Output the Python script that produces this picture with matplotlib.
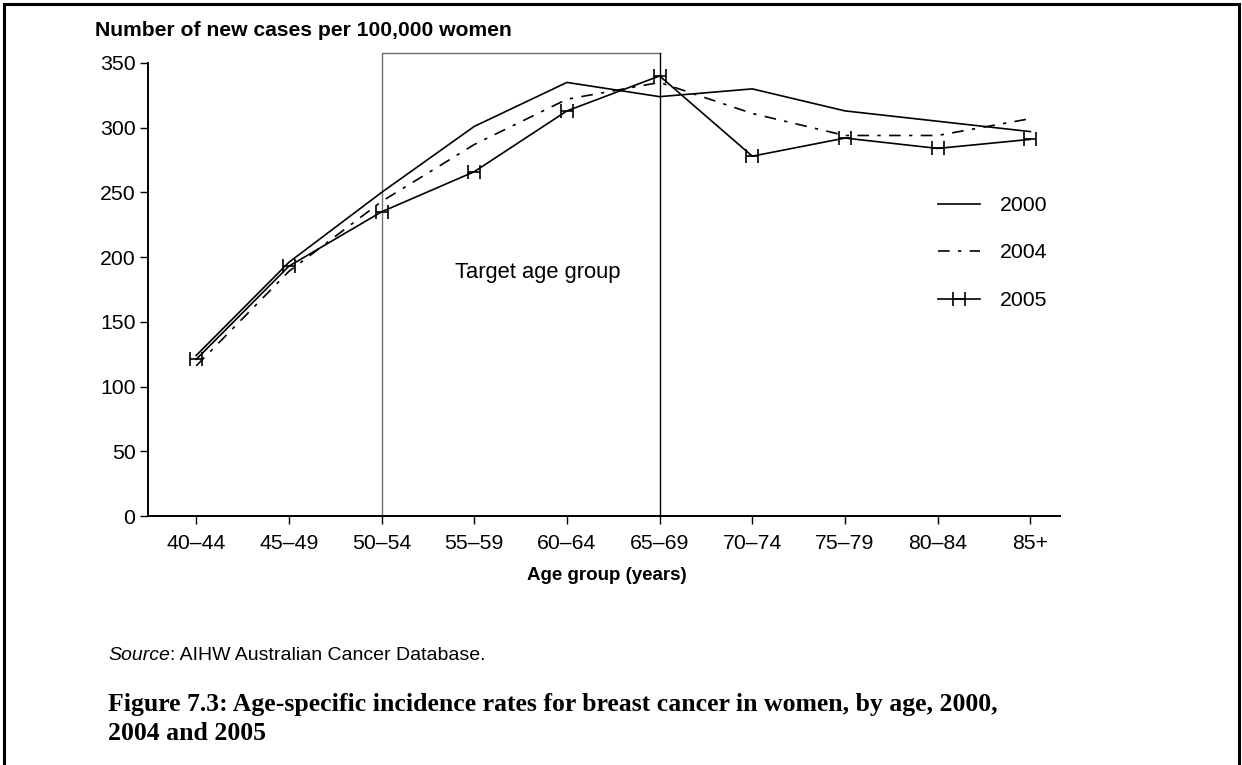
import matplotlib.pyplot as plt
from matplotlib.path import Path
from matplotlib.patches import Rectangle

# Age-specific incidence rates (new cases per 100,000 women)
age_groups = ['40–44', '45–49', '50–54', '55–59', '60–64',
              '65–69', '70–74', '75–79', '80–84', '85+']
rate_2000 = [124, 196, 250, 301, 335, 324, 330, 313, 305, 297]
rate_2004 = [116, 189, 243, 287, 322, 335, 311, 294, 294, 307]
rate_2005 = [121, 193, 235, 266, 313, 340, 278, 292, 284, 291]
yticks = [0, 50, 100, 150, 200, 250, 300, 350]

# screening target age group and the height of its outline box
target_first, target_last = '50–54', '65–69'
target_top = 358

plt.rcParams['font.family'] = ['Liberation Sans', 'DejaVu Sans']

fig = plt.figure(figsize=(12.42, 7.65), dpi=100)
ax = fig.add_axes([148 / 1242, 249 / 765, 912 / 1242, 453 / 765])

x = list(range(len(age_groups)))

# "H" shaped marker: two uprights joined by a crossbar
h_marker = Path([(-0.42, -0.5), (-0.42, 0.5), (0.42, -0.5), (0.42, 0.5),
                 (-0.42, 0), (0.42, 0)],
                [Path.MOVETO, Path.LINETO, Path.MOVETO, Path.LINETO,
                 Path.MOVETO, Path.LINETO])

ax.plot(x, rate_2000, color='black', lw=1.2, label='2000')
ax.plot(x, rate_2004, color='black', lw=1.2, ls=(0, (7, 5, 2, 5)), label='2004')
ax.plot(x, rate_2005, color='black', lw=1.2, marker=h_marker, markersize=10,
        markeredgewidth=1.2, label='2005')

# outline of the target age group
i0, i1 = age_groups.index(target_first), age_groups.index(target_last)
ax.plot([i0, i0, i1], [0, target_top, target_top], color='#6e6e6e', lw=1.0,
        clip_on=False, zorder=1)
ax.plot([i1, i1], [0, target_top], color='black', lw=1.0, clip_on=False, zorder=1)
ax.text((i0 + i1) / 2 + 0.18, 188, 'Target age group', ha='center', va='center',
        fontsize=15.8)

ax.set_xlim(-0.52, 9.32)
ax.set_ylim(0, 350)
ax.set_xticks(x)
ax.set_xticklabels(age_groups)
ax.set_yticks(yticks)
ax.tick_params(axis='both', labelsize=15.3, length=6, width=1.0, direction='out')
ax.tick_params(axis='x', pad=7)
ax.tick_params(axis='y', pad=3)
for side in ['top', 'right']:
    ax.spines[side].set_visible(False)
for side in ['left', 'bottom']:
    ax.spines[side].set_linewidth(1.4)

ax.legend(loc='upper left', bbox_to_anchor=(938 / 1242, 1 - 196 / 765),
          bbox_transform=fig.transFigure, frameon=False, fontsize=15.3,
          handlelength=1.98, handletextpad=0.94, labelspacing=1.34,
          borderaxespad=0, borderpad=0)

fig.text(95 / 1242, 1 - 31 / 765, 'Number of new cases per 100,000 women',
         fontsize=15.2, fontweight='bold', va='center', ha='left')
fig.text(607 / 1242, 1 - 576 / 765, 'Age group (years)', fontsize=13.5,
         fontweight='bold', ha='center', va='center')

src = fig.text(108 / 1242, 1 - 655 / 765, 'Source', fontsize=14, style='italic',
               va='center', ha='left')
fig.canvas.draw()
src_end = src.get_window_extent().x1 / 1242
fig.text(src_end, 1 - 655 / 765, ': AIHW Australian Cancer Database.',
         fontsize=14, va='center', ha='left')

fig.text(108 / 1242, 1 - 719 / 765,
         'Figure 7.3: Age-specific incidence rates for breast cancer in women, by age, 2000,\n2004 and 2005',
         fontsize=18.5, fontweight='bold', family=['Liberation Serif', 'DejaVu Serif'],
         va='center', ha='left', linespacing=1.3)

# page frame
fig.patches.append(Rectangle((4 / 1242, -0.05), 1235 / 1242, 1.05 - 4 / 765,
                             transform=fig.transFigure, fill=False,
                             edgecolor='black', lw=2.2))

fig.savefig('out.png', dpi=100)
